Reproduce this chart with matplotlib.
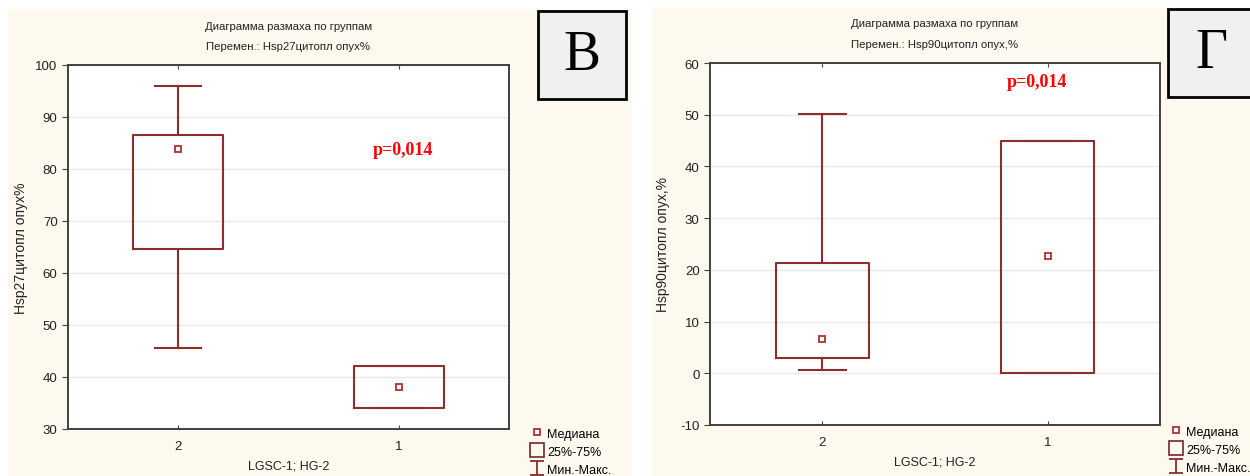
import matplotlib
matplotlib.use('Agg')
from matplotlib import pyplot as plt
from matplotlib.patches import Rectangle
from matplotlib.lines import Line2D
from matplotlib.path import Path

# ============================================================
# DONNEES
# ============================================================
groups = ['2', '1']

# panneau В : Hsp27
b_min = [45.5, 34.0]
b_q1  = [64.6, 34.0]
b_med = [83.8, 38.0]
b_q3  = [86.6, 42.1]
b_max = [96.0, 42.1]

# panneau Г : Hsp90
g_min = [0.7, 0.0]
g_q1  = [3.0, 0.0]
g_med = [6.6, 22.6]
g_q3  = [21.3, 44.9]
g_max = [50.2, 44.9]

W, H = 1250, 477
CREAM = '#fdf9ef'
BOXC  = '#8b2e2e'
MEDC  = '#b03030'
SPINE = '#404040'

plt.rcParams['font.family'] = ['Liberation Sans', 'DejaVu Sans']
plt.rcParams['axes.unicode_minus'] = False

fig = plt.figure(figsize=(W/100, H/100), dpi=100, facecolor='white')

def px_rect(l, t, r, b, z, **kw):
    fig.patches.append(Rectangle((l/W, 1-b/H), (r-l)/W, (b-t)/H, zorder=z,
                                 transform=fig.transFigure, figure=fig, **kw))

def px_axes(l, t, r, b):
    return fig.add_axes([l/W, 1-b/H, (r-l)/W, (b-t)/H])

# I-beam marker pour Min-Max
ibeam = Path([(-0.5, 0.5), (0.5, 0.5), (0, 0.5), (0, -0.5), (-0.5, -0.5), (0.5, -0.5)],
             [Path.MOVETO, Path.LINETO, Path.MOVETO, Path.LINETO, Path.MOVETO, Path.LINETO])

# ============================================================
# UN PANNEAU
# ============================================================
def draw_panel(box, ylim, yticks, var, ylabel, letter, ptext, ppos, legpos, letterbox, titlex, titley):
    l, t, r, b = box
    ax = px_axes(l, t, r, b)
    ax.set_facecolor('white')
    mins, q1s, meds, q3s, maxs = var
    stats = []
    for i in range(len(groups)):
        stats.append({'med': meds[i], 'q1': q1s[i], 'q3': q3s[i],
                      'whislo': mins[i], 'whishi': maxs[i],
                      'mean': meds[i], 'fliers': [], 'label': groups[i]})
    ax.bxp(stats, positions=[0, 1], widths=0.41, capwidths=0.21,
           showmeans=True, meanline=False, showfliers=False,
           boxprops=dict(color=BOXC, linewidth=1.5),
           whiskerprops=dict(color=BOXC, linewidth=1.5),
           capprops=dict(color=BOXC, linewidth=1.5),
           medianprops=dict(linewidth=0),
           meanprops=dict(marker='s', markersize=5, markerfacecolor='white',
                          markeredgecolor=MEDC, markeredgewidth=1.3))
    ax.set_xlim(-0.5, 1.5)
    ax.set_ylim(ylim)
    ax.set_yticks(yticks)
    ax.set_xticks([0, 1])
    ax.set_xticklabels(groups)
    ax.yaxis.grid(True, color='#e8e8e8', linewidth=1)
    ax.set_axisbelow(True)
    for s in ax.spines.values():
        s.set_color(SPINE)
        s.set_linewidth(1.4)
    ax.tick_params(axis='y', direction='out', length=4, color=SPINE, labelsize=9.5, labelcolor='#222222')
    ax.tick_params(axis='x', direction='in', length=3, color=SPINE, top=True, labelsize=9.5,
                   labelcolor='#222222', pad=8)
    ax.set_ylabel(ylabel, fontsize=10, color='#222222')
    ax.yaxis.set_label_coords(-40/(r-l), 0.5)
    ax.set_xlabel('LGSC-1; HG-2', fontsize=9, color='#222222')
    ax.xaxis.set_label_coords(0.5, -31/(b-t))
    ax.text(ppos[0], ppos[1], ptext, color='#ff0000', fontsize=13, fontweight='bold',
            family='Liberation Serif', ha='center', va='center')

    cx = (l + r) / 2
    fig.text(cx/W, 1-titley[0]/H, 'Диаграмма размаха по группам', fontsize=8.2,
             ha='center', va='center', color='#222222')
    fig.text(cx/W, 1-titley[1]/H, titlex, fontsize=8.2, ha='center', va='center', color='#222222')

    # cadre lettre
    lb = letterbox
    px_rect(lb[0], lb[1], lb[2], lb[3], 5, facecolor='#f0f0f0', edgecolor='black', linewidth=2)
    fig.text((lb[0]+lb[2])/2/W, 1-(lb[1]+lb[3])/2/H, letter, fontsize=40,
             family='Liberation Serif', ha='center', va='center', color='black', zorder=6)

    handles = [Line2D([], [], linestyle='none', marker='s', markersize=5, markerfacecolor='white',
                      markeredgecolor=MEDC, markeredgewidth=1.3),
               Line2D([], [], linestyle='none', marker='s', markersize=10, markerfacecolor='none',
                      markeredgecolor='#6b2a2a', markeredgewidth=1.2),
               Line2D([], [], linestyle='none', marker=ibeam, markersize=10,
                      markeredgecolor=BOXC, markeredgewidth=1.3)]
    fig.legend(handles, ['Медиана', '25%-75%', 'Мин.-Макс.'], loc='upper left',
               bbox_to_anchor=(legpos[0]/W, 1-legpos[1]/H), frameon=False, fontsize=9,
               handlelength=0.9, handleheight=1.0, handletextpad=0.4, labelspacing=0.4,
               borderpad=0, borderaxespad=0)
    return ax

# fonds creme
px_rect(8, 10, 632, 477, -10, facecolor=CREAM, edgecolor='none')
px_rect(652, 8, 1250, 477, -10, facecolor=CREAM, edgecolor='none')

draw_panel((68, 66, 509, 430), (30, 100), range(30, 101, 10),
           (b_min, b_q1, b_med, b_q3, b_max), 'Hsp27цитопл опух%', 'В',
           'p=0,014', (1.02, 83.8), (531, 428), (538, 12, 626, 100),
           'Перемен.: Hsp27цитопл опух%', (27, 47))

draw_panel((710, 64, 1160, 426), (-10, 60), range(-10, 61, 10),
           (g_min, g_q1, g_med, g_q3, g_max), 'Hsp90цитопл опух,%', 'Г',
           'p=0,014', (0.953, 56.5), (1170, 426), (1168, 10, 1254, 98),
           'Перемен.: Hsp90цитопл опух,%', (24, 45))

fig.savefig('out.png', dpi=100, facecolor='white')
